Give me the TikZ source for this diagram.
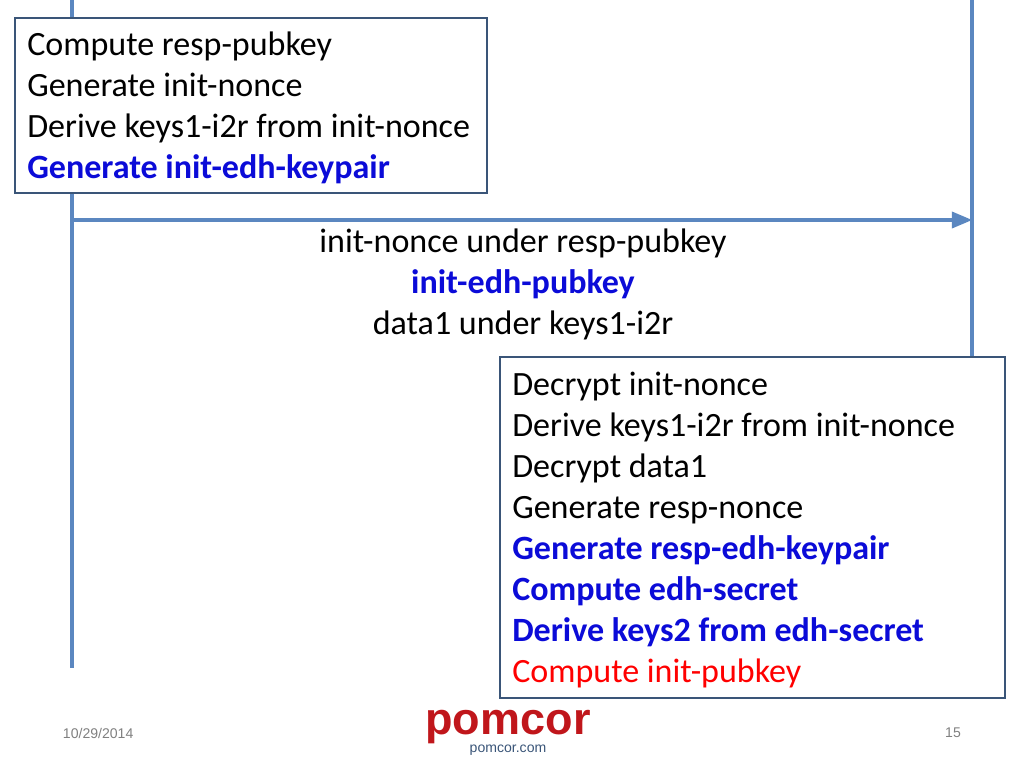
\documentclass[tikz,border=0pt]{standalone}
\usepackage{fontspec}
\setmainfont{Carlito}
\newfontfamily\footfont{Liberation Sans}
\usetikzlibrary{arrows, positioning}
\definecolor{lineblue}{HTML}{5B87C0}
\definecolor{boxedge}{HTML}{3A5578}
\definecolor{deepblue}{HTML}{0B0BD8}
\definecolor{logored}{HTML}{C0161B}
\begin{document}
\begin{tikzpicture}[x=0.025cm,y=-0.025cm]
		\tikzstyle{Life} = [draw=lineblue, line width = 2.4pt]
		\tikzstyle{Box} = [draw=boxedge, fill=white, line width = 1.6pt]
		\tikzstyle{Line} = [anchor=base west, font=\fontsize{24.2}{28}\selectfont, inner sep=0pt]
		\tikzstyle{Bold} = [Line, text=deepblue, font=\fontsize{24.2}{28}\selectfont\bfseries]
		\tikzstyle{Mid} = [anchor=base, font=\fontsize{24.2}{28}\selectfont, inner sep=0pt]
		\tikzstyle{arrow} = [Life, -triangle 45]
		\useasboundingbox (0,0) rectangle (1024,768);

		% lifelines
		\coordinate (initTop) at (72,0);
		\coordinate (initEnd) at (72,668);
		\coordinate (respTop) at (972,0);
		\coordinate (respEnd) at (972,360);
		\draw [Life] (initTop) -- (initEnd);
		\draw [Life] (respTop) -- (respEnd);
		\coordinate (msgStart) at (72,220);
		\coordinate (msgEnd) at (972,220);
		\draw [arrow] (msgStart) -- (msgEnd);

		% initiator box
		\draw [Box] (15,18) rectangle (487,193);
		\node (i1) [Line] at (27,56) {Compute resp-pubkey};
		\node (i2) [Line] at (27,97) {Generate init-nonce};
		\node (i3) [Line] at (27,138) {Derive keys1-i2r from init-nonce};
		\node (i4) [Bold] at (27,179) {Generate init-edh-keypair};

		% message
		\node (m1) [Mid] at (523,252) {init-nonce under resp-pubkey};
		\node (m2) [Mid, text=deepblue, font=\fontsize{24.2}{28}\selectfont\bfseries] at (523,293) {init-edh-pubkey};
		\node (m3) [Mid] at (523,334) {data1 under keys1-i2r};

		% responder box
		\draw [Box] (500,357) rectangle (1005,698);
		\node (r1) [Line] at (512,395) {Decrypt init-nonce};
		\node (r2) [Line] at (512,436) {Derive keys1-i2r from init-nonce};
		\node (r3) [Line] at (512,477) {Decrypt data1};
		\node (r4) [Line] at (512,518) {Generate resp-nonce};
		\node (r5) [Bold] at (512,559) {Generate resp-edh-keypair};
		\node (r6) [Bold] at (512,600) {Compute edh-secret};
		\node (r7) [Bold] at (512,641) {Derive keys2 from edh-secret};
		\node (r8) [Line, text=red] at (512,682) {Compute init-pubkey};

		% footer
		\node (date) [anchor=west, text=gray, font=\fontsize{10}{12}\selectfont\footfont] at (58,733) {10/29/2014};
		\node (page) [anchor=center, text=gray, font=\fontsize{10}{12}\selectfont\footfont] at (953,733) {15};
		\node (logo) [anchor=center, text=logored, font=\fontsize{32}{34}\selectfont\footfont\bfseries] at (508,727) {pomcor};
		\node (site) [anchor=center, text=boxedge, font=\fontsize{10}{12}\selectfont\footfont] at (508,750) {pomcor.com};
\end{tikzpicture}
\end{document}
